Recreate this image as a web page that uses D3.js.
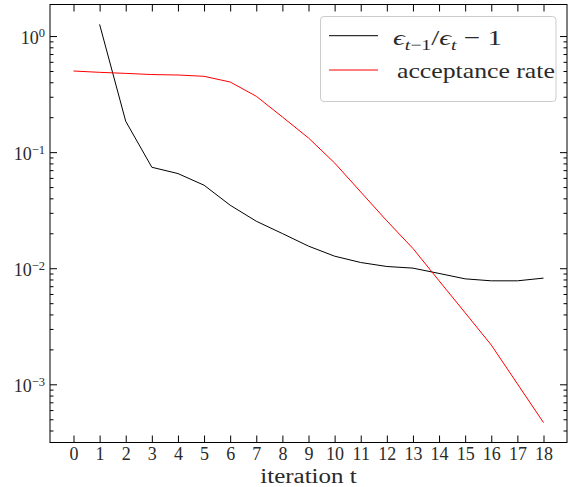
<!DOCTYPE html>
<html>
<head>
<meta charset="utf-8">
<script src="https://cdn.jsdelivr.net/npm/d3@7"></script>
<style>
  html, body { margin: 0; padding: 0; background: #fff; }
  svg text { font-family: "Liberation Serif", "DejaVu Serif", serif; fill: #2a2a2a; }
</style>
</head>
<body>
<svg id="chart" width="568" height="487"></svg>
<script>
// Iteration index and the two tracked quantities (log scale)
const iterations = d3.range(0, 19);
const epsRatio = [null, 1.26, 0.1845, 0.0741, 0.0654, 0.0519, 0.0349, 0.0254, 0.0199,
  0.0155, 0.0127, 0.0112, 0.01035, 0.01002, 0.00902, 0.0081, 0.00779, 0.00779, 0.00822];
const acceptance = [0.500, 0.487, 0.477, 0.466, 0.462, 0.450, 0.402, 0.303, 0.201,
  0.1324, 0.0807, 0.0454, 0.0256, 0.0148, 0.0078, 0.00413, 0.00218, 0.00101, 0.000468];
const xTickValues = d3.range(0, 19);
const yMajorExponents = [-3, -2, -1, 0];
const seriesNames = ["eps", "acceptance rate"];
const xLabel = "iteration t";

const FONT = '"Liberation Serif", "DejaVu Serif", serif';
const svg = d3.select("#chart");
const plot = { left: 50, right: 567, top: 4.5, bottom: 442.5 };

// x domain with 5% margins on each side
const xPad = 0.05 * (d3.max(iterations) - d3.min(iterations));
const x = d3.scaleLinear()
  .domain([d3.min(iterations) - xPad, d3.max(iterations) + xPad])
  .range([plot.left, plot.right]);

// y domain: data extent in log space, padded by 5%
const allVals = epsRatio.concat(acceptance).filter(v => v != null);
const lo = Math.log10(d3.min(allVals)), hi = Math.log10(d3.max(allVals));
const lPad = 0.05 * (hi - lo);
const y = d3.scaleLog()
  .domain([Math.pow(10, lo - lPad), Math.pow(10, hi + lPad)])
  .range([plot.bottom, plot.top]);

const yMajor = yMajorExponents.map(e => Math.pow(10, e));
const yMinor = [];
for (let e = -4; e <= 0; e++) {
  for (let m = 2; m <= 9; m++) {
    const v = m * Math.pow(10, e);
    if (v >= y.domain()[0] && v <= y.domain()[1]) yMinor.push(v);
  }
}

const MAJ = 7, MIN = 3.5;

// bottom axis with inward ticks
const gx = svg.append("g")
  .attr("transform", `translate(0,${plot.bottom})`)
  .call(d3.axisBottom(x).tickValues(xTickValues).tickSize(-MAJ).tickSizeOuter(0).tickFormat(d3.format("d")));
gx.attr("font-family", FONT).attr("font-size", 18);
gx.selectAll("text").attr("y", 17.5).attr("dy", 0);

// top axis ticks
svg.append("g")
  .attr("transform", `translate(0,${plot.top})`)
  .call(d3.axisTop(x).tickValues(xTickValues).tickSize(-MAJ).tickSizeOuter(0).tickFormat(""));

// left axis: majors with power-of-ten labels, then minors
const gy = svg.append("g")
  .attr("transform", `translate(${plot.left},0)`)
  .call(d3.axisLeft(y).tickValues(yMajor).tickSize(-MAJ).tickSizeOuter(0).tickFormat(""));
gy.attr("font-family", FONT).attr("font-size", 18);
gy.selectAll(".tick text").each(function(d) {
  const t = d3.select(this);
  t.attr("x", -5).attr("dy", 0).attr("y", 7.5).attr("text-anchor", "end");
  const e = Math.round(Math.log10(d));
  t.append("tspan").text("10");
  t.append("tspan").attr("dy", -6.6).attr("font-size", 12.5).text(e < 0 ? "\u2212" + (-e) : String(e));
});
svg.append("g")
  .attr("transform", `translate(${plot.left},0)`)
  .call(d3.axisLeft(y).tickValues(yMinor).tickSize(-MIN).tickSizeOuter(0).tickFormat(""));

// right axis ticks
svg.append("g")
  .attr("transform", `translate(${plot.right},0)`)
  .call(d3.axisRight(y).tickValues(yMajor).tickSize(-MAJ).tickSizeOuter(0).tickFormat(""));
svg.append("g")
  .attr("transform", `translate(${plot.right},0)`)
  .call(d3.axisRight(y).tickValues(yMinor).tickSize(-MIN).tickSizeOuter(0).tickFormat(""));

svg.selectAll(".domain").remove();
svg.selectAll(".tick line").attr("stroke", "#000").attr("stroke-width", 1);

// frame
svg.append("rect")
  .attr("x", plot.left).attr("y", plot.top)
  .attr("width", plot.right - plot.left).attr("height", plot.bottom - plot.top)
  .attr("fill", "none").attr("stroke", "#000").attr("stroke-width", 1);

// series lines
const line = d3.line()
  .defined(d => d[1] != null)
  .x(d => x(d[0])).y(d => y(d[1]));

svg.append("path")
  .datum(iterations.map((t, i) => [t, epsRatio[i]]))
  .attr("d", line).attr("fill", "none").attr("stroke", "#000").attr("stroke-width", 1);

svg.append("path")
  .datum(iterations.map((t, i) => [t, acceptance[i]]))
  .attr("d", line).attr("fill", "none").attr("stroke", "#ff0000").attr("stroke-width", 1);

// stretch a text element horizontally to a given width, anchored at x0
function fitWidth(sel, width, x0) {
  const bb = sel.node().getBBox();
  const s = width / bb.width;
  const ax = x0 == null ? bb.x : x0;
  sel.attr("transform", `translate(${ax},0) scale(${s},1) translate(${-ax},0)`);
}

// x label
const cx = (plot.left + plot.right) / 2;
const xl = svg.append("text")
  .attr("x", cx).attr("y", 483)
  .attr("text-anchor", "middle").style("font-size", "20px").text(xLabel);
fitWidth(xl, 97, cx);

// legend
const lg = svg.append("g");
lg.append("rect")
  .attr("x", 320.5).attr("y", 16.5).attr("width", 235.5).attr("height", 85)
  .attr("rx", 3.5).attr("fill", "#fff").attr("fill-opacity", 0.8)
  .attr("stroke", "#cccccc").attr("stroke-width", 1);
lg.append("line").attr("x1", 329).attr("x2", 378).attr("y1", 35.7).attr("y2", 35.7)
  .attr("stroke", "#000").attr("stroke-width", 1);
lg.append("line").attr("x1", 329).attr("x2", 378).attr("y1", 70).attr("y2", 70)
  .attr("stroke", "#ff0000").attr("stroke-width", 1);

const t1 = lg.append("text").attr("x", 393).attr("y", 45).style("font-size", "22px");
t1.append("tspan").style("font-style", "italic").text("\u03F5");
t1.append("tspan").attr("dy", 5).style("font-size", "15px").style("font-style", "italic").text("t");
t1.append("tspan").style("font-size", "15px").text("\u22121");
t1.append("tspan").attr("dy", -5).text("/");
t1.append("tspan").style("font-style", "italic").text("\u03F5");
t1.append("tspan").attr("dy", 5).style("font-size", "15px").style("font-style", "italic").text("t");
t1.append("tspan").attr("dy", -5).text(" \u2212 1");
fitWidth(t1, 109);

const t2 = lg.append("text").attr("x", 397).attr("y", 78.5).style("font-size", "22px").text(seriesNames[1]);
fitWidth(t2, 158);
</script>
</body>
</html>
